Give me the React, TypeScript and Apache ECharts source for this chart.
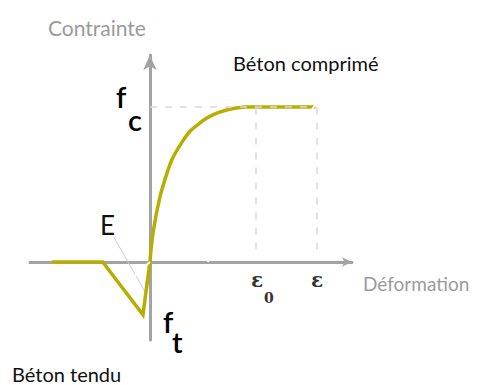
import React, { useEffect, useRef } from "react";
import * as echarts from "echarts";

// Compression branch (strain, stress/fc)
const compStrain = [0, 0.06, 0.19, 0.32, 0.43, 0.6, 0.75, 0.92, 1.08, 1.3, 1.57, 1.8, 2.0, 3.12];
const compStress = [0, 0.19, 0.42, 0.57, 0.67, 0.77, 0.84, 0.89, 0.93, 0.965, 0.99, 1.0, 1.0, 1.0];
// Tension branch
const tensStrain = [0, -0.13, -0.89, -1.85];
const tensStress = [0, -0.34, 0, 0];
// Key values
const eps0 = 2.0;
const epsU = 3.15;
const fc = 1.0;
// Construction lines seen in the picture
const whiteDiag = [[3.15, 1.03], [1.09, 0]];
const whiteTangent = [[0, 0], [-0.415, -0.13]];
const eLeader = [[-0.68, 0.16], [-0.094, -0.19]];

const YELLOW = "#b7ae00";
const AXIS = "#a3a3a3";

export default function App() {
  const ref = useRef<HTMLDivElement>(null);
  useEffect(() => {
    document.body.style.margin = "0";
    const chart = echarts.init(ref.current!, undefined, { renderer: "svg" });
    const comp = compStrain.map((x, i) => [x, compStress[i]]);
    const tens = tensStrain.map((x, i) => [x, tensStress[i]]);
    const txt = (text: string, x: number, y: number, size: number, color: string, family = "Lato", extra: any = {}) => ({
      type: "text",
      x,
      y,
      style: { text, fontSize: size, fontFamily: family, fill: color, textAlign: "left", textVerticalAlign: "middle", ...extra },
    });
    chart.setOption({
      animation: false,
      backgroundColor: "#ffffff",
      grid: { left: 30, right: 128, top: 55, bottom: 45 },
      xAxis: {
        type: "value",
        min: -2.26,
        max: 3.81,
        axisLine: { onZero: true, lineStyle: { color: AXIS, width: 3 }, symbol: ["none", "arrow"], symbolSize: [7, 10] },
        axisTick: { show: false },
        axisLabel: { show: false },
        splitLine: { show: false },
      },
      yAxis: {
        type: "value",
        min: -0.503,
        max: 1.335,
        axisLine: { onZero: true, lineStyle: { color: AXIS, width: 3 }, symbol: ["none", "arrow"], symbolSize: [10, 15] },
        axisTick: { show: false },
        axisLabel: { show: false },
        splitLine: { show: false },
      },
      series: [
        {
          type: "line",
          data: [],
          silent: true,
          markLine: {
            symbol: "none",
            silent: true,
            label: { show: false },
            lineStyle: { color: "#d9d9d9", width: 1.5, type: [7, 8] },
            data: [
              [{ coord: [0, fc] }, { coord: [epsU, fc] }],
              [{ coord: [eps0, 0.08] }, { coord: [eps0, fc] }],
              [{ coord: [epsU, 0.08] }, { coord: [epsU, fc] }],
            ],
          },
        },
        {
          type: "line",
          data: eLeader,
          symbol: "none",
          lineStyle: { color: "#c9ccd9", width: 1 },
          z: 3,
        },
        {
          type: "line",
          data: comp,
          smooth: 0.3,
          symbol: "none",
          lineStyle: { color: YELLOW, width: 3.5 },
          z: 4,
        },
        {
          type: "line",
          data: tens,
          symbol: "none",
          lineStyle: { color: YELLOW, width: 3.5, join: "miter" },
          z: 4,
        },
        {
          type: "line",
          data: whiteDiag,
          symbol: "none",
          lineStyle: { color: "#ffffff", width: 2 },
          z: 6,
        },
        {
          type: "line",
          data: whiteTangent,
          symbol: "none",
          lineStyle: { color: "#ffffff", width: 2 },
          z: 6,
        },
      ],
      graphic: [
        txt("Contrainte", 48, 27, 21, "#9b9b9b"),
        txt("Béton comprimé", 233, 63, 20, "#111111"),
        txt("f", 116, 96, 29, "#000000", "Lato", { fontWeight: 600 }),
        txt("c", 128, 119, 29, "#000000", "Lato", { fontWeight: 600 }),
        txt("E", 100, 225, 26, "#111111"),
        txt("f", 163, 321, 29, "#000000", "Lato", { fontWeight: 600 }),
        txt("t", 172, 341, 29, "#000000", "Lato", { fontWeight: 600 }),
        txt("ε", 251, 280, 20, "#333333", "DejaVu Serif", { fontWeight: "bold" }),
        txt("0", 264, 298, 14, "#333333", "DejaVu Serif", { fontWeight: "bold" }),
        txt("ε", 311, 280, 20, "#333333", "DejaVu Serif", { fontWeight: "bold" }),
        txt("Déformation", 363, 283, 19, "#9b9b9b"),
        txt("Béton tendu", 12, 374, 20, "#111111"),
      ],
    });
    return () => chart.dispose();
  }, []);
  return <div ref={ref} style={{ width: 480, height: 385 }} />;
}
